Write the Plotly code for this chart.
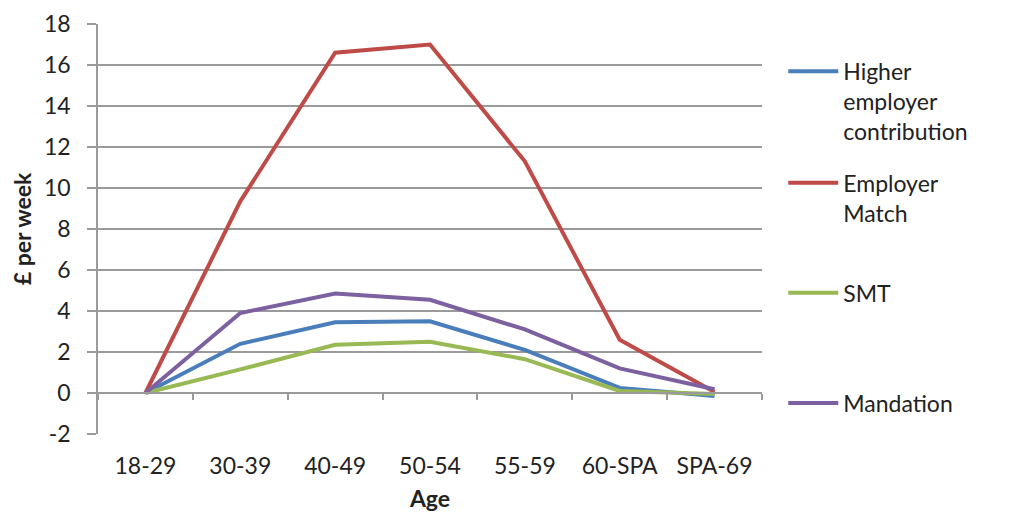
import plotly.graph_objects as go

# age bands on the x axis
age_bands = ['18-29', '30-39', '40-49', '50-54', '55-59', '60-SPA', 'SPA-69']

# £ per week
higher_employer = [0.0, 2.4, 3.45, 3.5, 2.1, 0.25, -0.15]
employer_match = [0.0, 9.35, 16.6, 17.0, 11.3, 2.6, 0.05]
smt = [0.0, 1.15, 2.35, 2.5, 1.65, 0.1, -0.05]
mandation = [0.0, 3.9, 4.85, 4.55, 3.1, 1.2, 0.18]

# y tick labels (Excel uses a plain hyphen for negatives)
y_ticks = [-2, 0, 2, 4, 6, 8, 10, 12, 14, 16, 18]
y_tick_text = ['-2', '0', '2', '4', '6', '8', '10', '12', '14', '16', '18']

names = ['Higher<br>employer<br>contribution', 'Employer<br>Match', 'SMT', 'Mandation']
colours = ['#4A7EBB', '#BE4B48', '#98B954', '#7D60A0']
series = [higher_employer, employer_match, smt, mandation]

FONT = 'Lato'
FSIZE = 23
GRID = '#9a9a9a'

fig = go.Figure()
legend_ids = ['legend', 'legend2', 'legend3', 'legend4']
for name, vals, col, leg in zip(names, series, colours, legend_ids):
    fig.add_trace(go.Scatter(x=age_bands, y=vals, name=name, mode='lines',
                             line=dict(color=col, width=4), legend=leg))

# one legend per entry so they can be spread out like the Excel original
legend_tops = [0.937, 0.665, 0.397, 0.128]
leg_style = dict(x=1.032, xanchor='left', yanchor='top', valign='top',
                 font=dict(family=FONT, size=FSIZE, color='#222'),
                 itemwidth=50, bgcolor='rgba(0,0,0,0)')
legends = {}
for leg, top in zip(legend_ids, legend_tops):
    legends[leg] = dict(y=top, **leg_style)

# the page adds an 8px body margin, so margins are shifted by that much
fig.update_layout(
    width=1018, height=516,
    margin=dict(l=90, r=264, t=16, b=90),
    plot_bgcolor='white', paper_bgcolor='white',
    font=dict(family=FONT, size=FSIZE, color='#222'),
    showlegend=True,
    **legends,
    xaxis=dict(type='category', range=[-0.5, 6.5], showgrid=False, showline=False,
               zeroline=False, automargin=False,
               ticks='outside', ticklen=11, tickcolor='rgba(0,0,0,0)',
               title=dict(text='<b>Age</b>', standoff=13, font=dict(size=FSIZE))),
    xaxis2=dict(overlaying='x', anchor='free', position=0.1, range=[-0.5, 6.5],
                tickmode='linear', tick0=0.5, dtick=1, ticks='outside', ticklen=6,
                tickcolor=GRID, tickwidth=1.5, showticklabels=False, showgrid=False,
                zeroline=False, showline=True, linecolor=GRID, linewidth=1.5),
    yaxis=dict(range=[-2, 18], tickvals=y_ticks, ticktext=y_tick_text,
               showgrid=True, gridcolor=GRID, gridwidth=1.5, automargin=False,
               zeroline=False, showline=True, linecolor=GRID, linewidth=1.5,
               ticks='outside', ticklen=9, tickcolor=GRID, tickwidth=1.5,
               ticklabelstandoff=12,
               title=dict(text='<b>£ per week</b>', standoff=10, font=dict(size=FSIZE))),
)

# invisible trace so the zero-line axis (xaxis2) is drawn
fig.add_trace(go.Scatter(x=[None], y=[None], xaxis='x2', showlegend=False, hoverinfo='skip'))

fig.write_html("out.html")
